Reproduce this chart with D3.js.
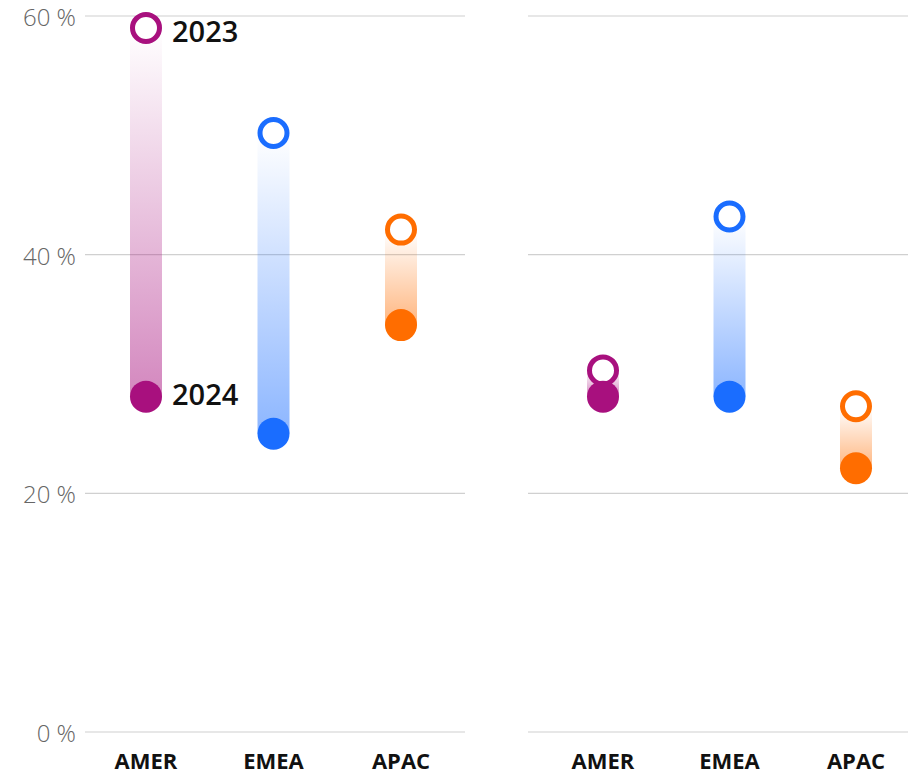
<!DOCTYPE html>
<html>
<head>
  <meta charset="UTF-8">
  <style>
    body { margin: 0; background: #fff; font-family: "Open Sans", sans-serif; }
    svg { display: block; }
  </style>
</head>
<body>
  <svg width="918" height="774"></svg>
  <script src="https://d3js.org/d3.v7.min.js"></script>
  <script>
    const regions = ["AMER", "EMEA", "APAC"];
    const colors = ["#A8107E", "#1A6DFF", "#FF6D00"];
    const yTicks = [0, 20, 40, 60];
    // left panel, right panel: 2023 and 2024 shares (%)
    const left2023 = [59.0, 50.2, 42.1];
    const left2024 = [28.1, 25.0, 34.1];
    const right2023 = [30.3, 43.2, 27.3];
    const right2024 = [28.1, 28.1, 22.1];
    const yearLabels = ["2023", "2024"];

    const svg = d3.select("svg");
    const y = d3.scaleLinear().domain([0, 60]).range([732, 16]);

    const defs = svg.append("defs");
    regions.forEach((r, i) => {
      const g = defs.append("linearGradient")
        .attr("id", "grad-" + r)
        .attr("x1", 0).attr("y1", 0).attr("x2", 0).attr("y2", 1);
      g.append("stop").attr("offset", "0%").attr("stop-color", colors[i]).attr("stop-opacity", 0);
      g.append("stop").attr("offset", "100%").attr("stop-color", colors[i]).attr("stop-opacity", 0.5);
    });

    const panels = [
      { x0: 85, x1: 465, pad: [61, 316], a: left2023, b: left2024, labels: true },
      { x0: 528, x1: 908, pad: [75, 328], a: right2023, b: right2024, labels: false }
    ];

    panels.forEach(p => {
      const x = d3.scalePoint().domain(regions).range([p.x0 + p.pad[0], p.x0 + p.pad[1]]);
      const g = svg.append("g");

      g.selectAll("line.grid").data(yTicks).join("line")
        .attr("class", "grid")
        .attr("x1", p.x0).attr("x2", p.x1)
        .attr("y1", d => y(d)).attr("y2", d => y(d))
        .attr("stroke", "#d0d0d0").attr("stroke-width", 1.2);

      const data = regions.map((r, i) => ({ r, c: colors[i], a: p.a[i], b: p.b[i] }));

      g.selectAll("rect.bar").data(data).join("rect")
        .attr("class", "bar")
        .attr("x", d => x(d.r) - 16)
        .attr("width", 32)
        .attr("y", d => y(d.a))
        .attr("height", d => y(d.b) - y(d.a))
        .attr("fill", d => "url(#grad-" + d.r + ")");

      g.selectAll("circle.old").data(data).join("circle")
        .attr("class", "old")
        .attr("cx", d => x(d.r)).attr("cy", d => y(d.a))
        .attr("r", 13.5)
        .attr("fill", "#fff")
        .attr("stroke", d => d.c).attr("stroke-width", 5);

      g.selectAll("circle.new").data(data).join("circle")
        .attr("class", "new")
        .attr("cx", d => x(d.r)).attr("cy", d => y(d.b))
        .attr("r", 16)
        .attr("fill", d => d.c);

      g.selectAll("text.cat").data(regions).join("text")
        .attr("class", "cat")
        .attr("x", d => x(d)).attr("y", 769)
        .attr("text-anchor", "middle")
        .attr("font-size", 22).attr("font-weight", 700)
        .attr("fill", "#111")
        .text(d => d);

      if (p.labels) {
        g.append("text")
          .attr("x", x(regions[0]) + 26).attr("y", y(p.a[0]) + 14)
          .attr("font-size", 29).attr("font-weight", 600)
          .attr("fill", "#111")
          .text(yearLabels[0]);
        g.append("text")
          .attr("x", x(regions[0]) + 26).attr("y", y(p.b[0]) + 8)
          .attr("font-size", 29).attr("font-weight", 600)
          .attr("fill", "#111")
          .text(yearLabels[1]);
      }
    });

    svg.selectAll("text.tick").data(yTicks).join("text")
      .attr("class", "tick")
      .attr("x", 76).attr("y", d => y(d) + 10)
      .attr("text-anchor", "end")
      .attr("font-size", 24).attr("font-weight", 300)
      .attr("fill", "#666")
      .text(d => d + " %");
  </script>
</body>
</html>
